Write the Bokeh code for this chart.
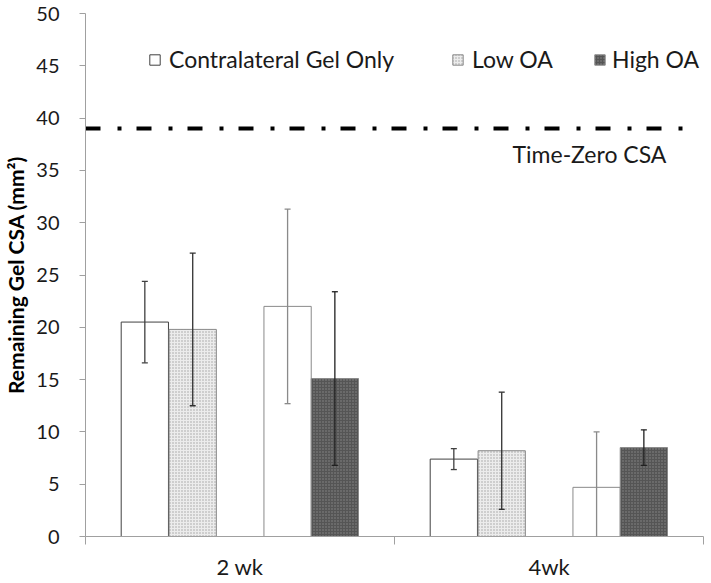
from bokeh.plotting import figure
from bokeh.models import (Range1d, FixedTicker, Whisker, TeeHead, ColumnDataSource,
                          Legend, LegendItem, Label)
from bokeh.embed import file_html
from bokeh.resources import INLINE

# ---------------- data ----------------
groups = ["2 wk", "4wk"]
contra_low = [20.5, 7.4]        # Contralateral Gel Only (paired with Low OA)
contra_low_err = [3.9, 1.0]
low_oa = [19.8, 8.2]
low_oa_err = [7.3, 5.6]
contra_high = [22.0, 4.7]       # Contralateral Gel Only (paired with High OA)
contra_high_err = [9.3, 5.3]
high_oa = [15.1, 8.5]
high_oa_err = [8.3, 1.7]
time_zero = 39.0
y_ticks = [0, 5, 10, 15, 20, 25, 30, 35, 40, 45, 50]

# ---------------- layout constants ----------------
FONT = "Lato"
offsets = [0.192, 0.347, 0.654, 0.807]
bar_w = 0.153

p = figure(width=710, height=582, output_backend="svg", toolbar_location=None,
           x_range=Range1d(0, 2), y_range=Range1d(0, 50),
           min_border_left=84, min_border_right=7, min_border_top=13, min_border_bottom=44)
p.outline_line_color = None
p.xgrid.visible = False
p.ygrid.visible = False
p.background_fill_color = "white"


def series(vals, errs, off, fill, line, err_color, hatch=None, hatch_color=None):
    xs = [gi + off for gi in range(len(groups))]
    src = ColumnDataSource(dict(x=xs, top=vals,
                                upper=[v + e for v, e in zip(vals, errs)],
                                lower=[v - e for v, e in zip(vals, errs)]))
    kw = {}
    if hatch:
        kw = dict(hatch_pattern=hatch, hatch_color=hatch_color, hatch_scale=3, hatch_weight=1)
    r = p.vbar(x="x", top="top", bottom=0, width=bar_w, source=src,
               fill_color=fill, line_color=line, line_width=1, **kw)
    w = Whisker(source=src, base="x", upper="upper", lower="lower",
                line_color=err_color, line_width=1.3, level="overlay",
                upper_head=TeeHead(size=6, line_color=err_color, line_width=1.3),
                lower_head=TeeHead(size=6, line_color=err_color, line_width=1.3))
    p.add_layout(w)
    return r


r_c1 = series(contra_low, contra_low_err, offsets[0], "white", "#404040", "#404040")
r_low = series(low_oa, low_oa_err, offsets[1], "#ececec", "#8a8a8a", "#303030",
               hatch="dot", hatch_color="#a0a0a0")
r_c2 = series(contra_high, contra_high_err, offsets[2], "white", "#8a8a8a", "#8a8a8a")
r_high = series(high_oa, high_oa_err, offsets[3], "#555555", "#8a8a8a", "#202020",
                hatch="dot", hatch_color="#8a8a8a")

# time-zero reference line
p.line(x=[0, 1.945], y=[time_zero, time_zero], line_color="black", line_width=4,
       line_dash="15 17 4 15", line_cap="butt")
p.add_layout(Label(x=1.382, y=36.6, text="Time-Zero CSA", text_font=FONT,
                   text_font_size="23px", text_color="#1a1a1a",
                   text_baseline="middle", text_align="left"))

# x axis
ax = p.xaxis[0]
ax.ticker = FixedTicker(ticks=[0.5, 1.5], minor_ticks=[0, 1, 2])
ax.major_label_overrides = {0.5: groups[0], 1.5: groups[1]}
ax.major_tick_out = 0
ax.major_tick_in = 0
ax.minor_tick_out = 8
ax.minor_tick_in = 0
ax.minor_tick_line_color = "#a0a0a0"
ax.axis_line_color = "#a0a0a0"
ax.major_label_text_font = FONT
ax.major_label_text_font_size = "22px"
ax.major_label_text_color = "#1a1a1a"
ax.major_label_standoff = 8

ay = p.yaxis[0]
ay.ticker = FixedTicker(ticks=y_ticks, minor_ticks=[])
ay.major_tick_out = 6
ay.major_tick_in = 0
ay.major_tick_line_color = "#a0a0a0"
ay.axis_line_color = "#a0a0a0"
ay.major_label_text_font = FONT
ay.major_label_text_font_size = "20px"
ay.major_label_text_color = "#1a1a1a"
ay.major_label_standoff = 20
ay.axis_label = "Remaining Gel CSA (mm²)"
ay.axis_label_text_font = FONT
ay.axis_label_text_font_size = "21px"
ay.axis_label_text_font_style = "bold"
ay.axis_label_text_color = "black"
ay.axis_label_standoff = 5

# legends (one per item so each sits where the reference has it)
def add_legend(label, r, x, standoff=8):
    leg = Legend(items=[LegendItem(label=label, renderers=[r])], location=(x, 463),
                 orientation="horizontal", padding=0, margin=0, border_line_color=None,
                 background_fill_alpha=0, glyph_width=13, glyph_height=13,
                 label_standoff=standoff, label_text_font=FONT, label_text_font_size="23px",
                 label_text_color="#1a1a1a")
    p.add_layout(leg)

add_legend("Contralateral Gel Only", r_c1, 63)
add_legend("Low OA", r_low, 366)
add_legend("High OA", r_high, 508, standoff=6)

open("out.html", "w").write(file_html(p, INLINE))
